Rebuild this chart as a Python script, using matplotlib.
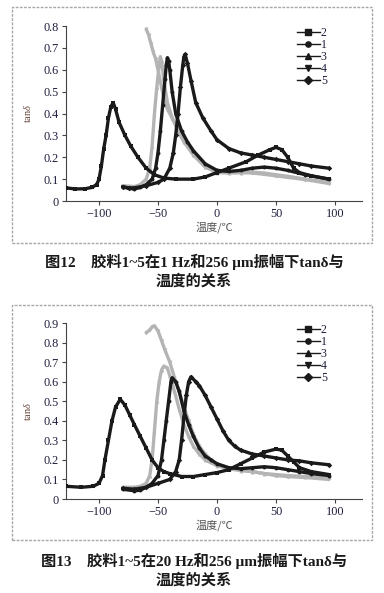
import matplotlib
matplotlib.use("Agg")
import matplotlib.pyplot as plt
from matplotlib.lines import Line2D
from matplotlib.patches import Rectangle

plt.rcParams['mathtext.fontset'] = 'custom'
plt.rcParams['mathtext.rm'] = 'Liberation Serif'
plt.rcParams['mathtext.it'] = 'Liberation Serif:italic'

# ---------------- data: Fig.12 (1 Hz) ----------------
t2_a = [-128, -120, -112, -106, -102, -100, -98, -96, -94, -92, -90, -88, -86, -83, -78, -73, -67, -60, -53, -45,
        -35, -20, -10, 0, 10, 25, 35, 45, 50, 55, 60, 65, 70, 80, 95]
v2_a = [0.06, 0.055, 0.056, 0.062, 0.075, 0.1, 0.16, 0.24, 0.3, 0.38, 0.43, 0.45, 0.42, 0.36, 0.3, 0.25, 0.2, 0.15,
        0.12, 0.105, 0.1, 0.1, 0.11, 0.13, 0.15, 0.18, 0.21, 0.235, 0.245, 0.235, 0.2, 0.15, 0.13, 0.115, 0.1]
t1_a = [-80, -75, -70, -65, -60, -55, -52, -50, -48, -46, -44, -43, -42, -41, -40, -38, -35, -30, -25, -20, -10,
        0, 10, 20, 30, 40, 50, 60, 75, 95]
v1_a = [0.065, 0.058, 0.055, 0.062, 0.075, 0.1, 0.15, 0.22, 0.32, 0.44, 0.56, 0.62, 0.655, 0.64, 0.6, 0.5, 0.4,
        0.32, 0.27, 0.23, 0.17, 0.14, 0.135, 0.14, 0.15, 0.155, 0.15, 0.14, 0.12, 0.1]
t3_a = [-80, -75, -70, -65, -60, -57, -55, -53, -51, -49, -48, -47, -45, -42, -38, -33, -28, -20, -10, 0, 10, 20,
        30, 40, 50, 60, 75, 95]
v3_a = [0.07, 0.068, 0.066, 0.075, 0.1, 0.15, 0.25, 0.4, 0.52, 0.62, 0.66, 0.64, 0.55, 0.45, 0.38, 0.32, 0.27,
        0.21, 0.155, 0.13, 0.128, 0.13, 0.132, 0.128, 0.12, 0.113, 0.1, 0.085]
t4_a = [-60, -58, -56, -54, -52, -50, -47, -45, -42, -38, -33, -28, -20, -10, 0, 10, 20, 30, 40, 50, 60, 75, 95]
v4_a = [0.785, 0.76, 0.72, 0.68, 0.65, 0.6, 0.52, 0.47, 0.42, 0.38, 0.33, 0.28, 0.22, 0.16, 0.135, 0.13, 0.13,
        0.128, 0.122, 0.115, 0.108, 0.098, 0.08]
t5_a = [-80, -75, -70, -60, -50, -45, -40, -37, -35, -33, -31, -29, -28, -27, -25, -22, -18, -12, -5, 0, 10, 20,
        30, 40, 50, 60, 70, 80, 95]
v5_a = [0.065, 0.06, 0.06, 0.07, 0.085, 0.1, 0.15, 0.22, 0.3, 0.4, 0.52, 0.62, 0.66, 0.67, 0.63, 0.55, 0.45,
        0.38, 0.32, 0.28, 0.24, 0.22, 0.21, 0.2, 0.19, 0.18, 0.17, 0.16, 0.15]

# ---------------- data: Fig.13 (20 Hz) ----------------
t2_b = [-128, -115, -105, -100, -97, -95, -92, -89, -86, -82, -78, -74, -70, -65, -60, -55, -50, -45, -40, -30,
        -20, -10, 0, 10, 20, 30, 40, 50, 55, 60, 65, 70, 80, 95]
v2_b = [0.065, 0.06, 0.065, 0.08, 0.12, 0.2, 0.3, 0.4, 0.47, 0.51, 0.48, 0.43, 0.38, 0.32, 0.26, 0.2, 0.16,
        0.14, 0.13, 0.115, 0.115, 0.125, 0.135, 0.15, 0.18, 0.21, 0.24, 0.255, 0.25, 0.22, 0.19, 0.16, 0.14, 0.125]
t1_b = [-80, -70, -65, -60, -55, -50, -47, -45, -43, -41, -39, -38, -35, -32, -28, -24, -20, -15, -10, -5, 0, 10,
        20, 30, 40, 50, 60, 70, 80, 95]
v1_b = [0.05, 0.042, 0.045, 0.06, 0.08, 0.12, 0.2, 0.3, 0.4, 0.5, 0.6, 0.62, 0.6, 0.55, 0.45, 0.38, 0.32, 0.26,
        0.22, 0.2, 0.18, 0.16, 0.155, 0.16, 0.165, 0.16, 0.15, 0.14, 0.13, 0.12]
t3_b = [-80, -70, -65, -60, -57, -55, -53, -51, -49, -47, -45, -42, -40, -36, -32, -28, -24, -20, -15, -10, 0,
        10, 20, 30, 40, 50, 60, 75, 95]
v3_b = [0.06, 0.06, 0.065, 0.08, 0.12, 0.2, 0.35, 0.5, 0.6, 0.66, 0.68, 0.67, 0.63, 0.55, 0.46, 0.38, 0.32,
        0.27, 0.23, 0.2, 0.17, 0.155, 0.145, 0.14, 0.13, 0.125, 0.12, 0.115, 0.11]
t4_b = [-60, -57, -55, -53, -50, -47, -44, -40, -36, -32, -28, -24, -20, -15, -10, -5, 0, 10, 20, 30, 40, 50, 60,
        75, 95]
v4_b = [0.85, 0.865, 0.88, 0.885, 0.86, 0.81, 0.76, 0.7, 0.62, 0.55, 0.47, 0.4, 0.33, 0.27, 0.23, 0.2, 0.18,
        0.16, 0.15, 0.14, 0.13, 0.12, 0.115, 0.11, 0.1]
t5_b = [-80, -70, -60, -50, -40, -35, -32, -30, -28, -26, -24, -22, -18, -15, -10, -5, 0, 5, 10, 15, 20, 30, 40,
        50, 60, 70, 80, 95]
v5_b = [0.055, 0.05, 0.06, 0.08, 0.1, 0.14, 0.2, 0.3, 0.42, 0.53, 0.6, 0.625, 0.6, 0.58, 0.53, 0.47, 0.41, 0.35,
        0.3, 0.27, 0.25, 0.23, 0.22, 0.21, 0.2, 0.195, 0.185, 0.175]

series_names = ['2', '1', '3', '4', '5']
markers = ['s', 'o', '^', 'v', 'D']
colors = ['#1a1a1a', '#1a1a1a', '#b4b4b4', '#b4b4b4', '#1a1a1a']
x_ticks = [-100, -50, 0, 50, 100]
yticks_a = [0, 0.1, 0.2, 0.3, 0.4, 0.5, 0.6, 0.7, 0.8]
yticks_b = [0, 0.1, 0.2, 0.3, 0.4, 0.5, 0.6, 0.7, 0.8, 0.9]
xlabel = '温度/℃'
caption_a = ['图12    胶料1~5在1 Hz和256 μm振幅下tanδ与', '温度的关系']
caption_b = ['图13    胶料1~5在20 Hz和256 μm振幅下tanδ与', '温度的关系']

W, H = 384, 593
fig = plt.figure(figsize=(W / 100, H / 100), dpi=100)

TICKC = '#1e1e3c'
SER = ['Liberation Serif', 'DejaVu Serif']
CJK = ['Noto Sans CJK SC', 'DejaVu Sans']
CAP = ['Liberation Serif', 'Noto Sans CJK SC', 'DejaVu Sans']


def fy(py):
    return 1 - py / H


def panel(rect, data, yticks, ymax, leg_top):
    ax = fig.add_axes(rect)
    order = [2, 3, 0, 1, 4]  # gray first
    for i in order:
        t, v = data[i]
        ax.plot(t, v, color=colors[i], lw=2.4, marker=markers[i], ms=2.8, mew=0,
                solid_capstyle='round', zorder=3 if colors[i] != '#b4b4b4' else 2)
    ax.set_xlim(-128, 123)
    ax.set_ylim(0, ymax)
    ax.set_xticks(x_ticks)
    ax.set_yticks(yticks)
    ax.set_yticklabels([('%g' % y) for y in yticks])
    for s in ['top', 'right']:
        ax.spines[s].set_visible(False)
    for s in ['left', 'bottom']:
        ax.spines[s].set_color('#444444')
        ax.spines[s].set_linewidth(0.8)
    ax.tick_params(direction='out', length=3, width=0.8, color='#444444', labelcolor=TICKC,
                   labelsize=8.8, pad=2)
    for lab in ax.get_xticklabels() + ax.get_yticklabels():
        lab.set_family(SER)
    ax.set_ylabel(r'tan$\it{\delta}$', color='#6a4a3c', fontsize=7.5, family=SER, labelpad=8)
    ax.set_xlabel(xlabel, color='#555555', fontsize=8, family=CJK, labelpad=1)
    handles = [Line2D([0], [0], color='#1a1a1a', lw=1.0, marker=markers[i], ms=3.8)
               for i in range(5)]
    leg = ax.legend(handles, series_names, loc='upper left', bbox_to_anchor=(0.78, leg_top),
                    frameon=False, handlelength=1.9, handletextpad=0.1, labelspacing=0.0,
                    borderaxespad=0, borderpad=0, prop={'family': SER, 'size': 8.6})
    for tx in leg.get_texts():
        tx.set_color(TICKC)
    return ax


ax1 = panel([66 / W, fy(201), 296 / W, 175 / H],
            [(t2_a, v2_a), (t1_a, v1_a), (t3_a, v3_a), (t4_a, v4_a), (t5_a, v5_a)],
            yticks_a, 0.8, 0.995)
ax2 = panel([66 / W, fy(499), 296 / W, 176 / H],
            [(t2_b, v2_b), (t1_b, v1_b), (t3_b, v3_b), (t4_b, v4_b), (t5_b, v5_b)],
            yticks_b, 0.9, 0.995)

# panel frames
for (y0, y1) in [(7, 243), (305, 540)]:
    fig.patches.append(Rectangle((12 / W, fy(y1)), 360 / W, (y1 - y0) / H, transform=fig.transFigure,
                                 fill=False, ec='#a8a8a8', lw=1.0, ls=(0, (2, 1))))

# captions
for cap, ys in [(caption_a, (262, 281)), (caption_b, (561, 580))]:
    for line, y in zip(cap, ys):
        fig.text(0.505, fy(y), line, ha='center', va='center', fontsize=11, fontweight='bold',
                 family=CAP, color='#1a1a1a')

fig.savefig('out.png', dpi=100)
